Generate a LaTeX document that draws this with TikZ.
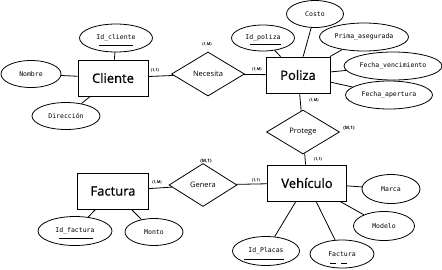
\documentclass[tikz,border=0pt]{standalone}
\usepackage{fontspec}
\setmainfont{Open Sans}
\setmonofont{DejaVu Sans Mono}
\newfontfamily\entfont{Open Sans}[FakeBold=0.9]
\usetikzlibrary{shapes.geometric}

\tikzset{
    keyline/.style={line width=0.8pt},
    weakline/.style={line width=0.8pt,dash pattern=on 6pt off 5pt}
}

\begin{document}
\begin{tikzpicture}[x=1pt,y=-1pt,line width=0.8pt]
            \useasboundingbox (0,0) rectangle (442,269);

            % entities
            \begin{scope}[every node/.style={rectangle,draw,thick,minimum height=36pt,font=\entfont\fontsize{13}{13}\selectfont}]
                \node (cli) [minimum width=70pt] at (113,78) {Cliente};
                \node (pol) [minimum width=64pt] at (298,75) {Poliza};
                \node (veh) [minimum width=79pt] at (307,183) {Vehículo};
                \node (fac) [minimum width=71pt] at (113,191) {Factura};
            \end{scope}

            % relationships
            \begin{scope}[every node/.style={diamond,draw,inner sep=0pt,font=\fontsize{7.5}{7.5}\selectfont}]
                \node (nec) [minimum width=73pt,minimum height=44pt] at (208,74) {Necesita};
                \node (pro) [minimum width=73pt,minimum height=44pt] at (303,132) {Protege};
                \node (gen) [minimum width=68pt,minimum height=43pt] at (203,185) {Genera};
            \end{scope}

            % attributes
            \begin{scope}[every node/.style={ellipse,draw,inner sep=0pt,minimum height=28pt,font=\ttfamily\fontsize{6.5}{6.5}\selectfont}]
                \node (idcli) [minimum width=73pt] at (116,38) {Id\_cliente};
                \node (nom) [minimum width=60pt,minimum height=27pt] at (31,74) {Nombre};
                \node (dir) [minimum width=68pt,minimum height=27pt] at (66,116) {Dirección};
                \node (idpol) [minimum width=63pt,minimum height=26pt] at (263,38) {Id\_poliza};
                \node (cos) [minimum width=57pt,minimum height=27pt] at (315,14) {Costo};
                \node (pri) [minimum width=89pt] at (364,37) {Prima\_asegurada};
                \node (fven) [minimum width=98pt] at (393,66) {Fecha\_vencimiento};
                \node (fape) [minimum width=87pt] at (389,95) {Fecha\_apertura};
                \node (mar) [minimum width=58pt,minimum height=29pt] at (391,189) {Marca};
                \node (mod) [minimum width=61pt,minimum height=29pt] at (384,226) {Modelo};
                \node (vfac) [minimum width=64pt] at (342,254) {Factura};
                \node (idpla) [minimum width=67pt,minimum height=29pt] at (266,251) {Id\_Placas};
                \node (idfac) [minimum width=74pt,minimum height=29pt] at (75,231) {Id\_factura};
                \node (mon) [minimum width=58pt,minimum height=27pt] at (154,232) {Monto};
            \end{scope}

            % key underlines
            \draw[keyline] ([shift={(-17,7)}]idcli.center) -- ++(34,0);
            \draw[keyline] ([shift={(-13,6)}]idpol.center) -- ++(31,0);
            \draw[keyline] ([shift={(-22,8)}]idpla.center) -- ++(40,0);
            \draw[keyline] ([shift={(-16,7)}]idfac.center) -- ++(34,0);
            \draw[weakline] ([shift={(-12,9)}]vfac.center) -- ++(17,0);

            % cardinalities
            \begin{scope}[every node/.style={inner sep=0pt,font=\bfseries\fontsize{3.8}{4}\selectfont}]
                \node (c1) at (155,70) {(1,1)};
                \node (c2) at (207,44) {(1,M)};
                \node (c3) at (257,69) {(1,M)};
                \node (c4) at (314,100) {(1,M)};
                \node (c5) at (349,128) {\fontsize{4.5}{5}\selectfont(M,1)};
                \node (c6) at (318,159) {(1,1)};
                \node (c7) at (256,180) {(1,1)};
                \node (c8) at (206,161) {\fontsize{4.5}{5}\selectfont(M,1)};
                \node (c9) at (157,182) {(1,M)};
            \end{scope}

            \begin{scope}
                \path (cli) edge (nec);
                \path (nec) edge (pol);
                \path (pol) edge (pro);
                \path (pro) edge (veh);
                \path (veh) edge (gen);
                \path (gen) edge (fac);
                \path (cli) edge (idcli);
                \path (cli) edge (nom);
                \path (cli) edge (dir);
                \path (pol) edge (idpol);
                \path (pol) edge (cos);
                \path (pol) edge (pri);
                \path (pol) edge (fven);
                \path (pol) edge (fape);
                \path (veh) edge (mar);
                \path (veh) edge (mod);
                \path (veh) edge (vfac);
                \path (veh) edge (idpla);
                \path (fac) edge (idfac);
                \path (fac) edge (mon);
            \end{scope}
            \end{tikzpicture}
\end{document}
